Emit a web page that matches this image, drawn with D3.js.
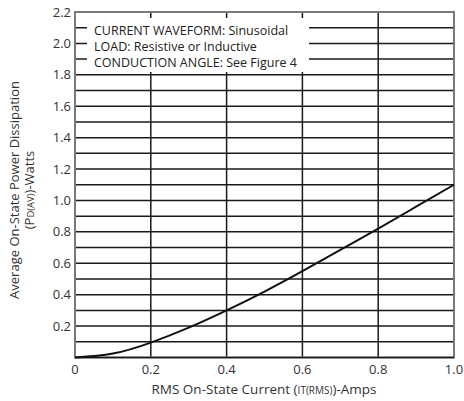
<!DOCTYPE html>
<html>
<head>
<meta charset="utf-8">
<script src="https://cdn.jsdelivr.net/npm/d3@7"></script>
<style>
  body { margin: 0; background: #fff; }
  svg { display: block; font-family: "Open Sans", sans-serif; }
</style>
</head>
<body>
<svg id="chart" width="464" height="401"></svg>
<script>
'use strict';
// curve: RMS current (A) -> average power (W)
const currentA = [0, 0.1, 0.2, 0.3, 0.4, 0.5, 0.6, 0.7, 0.8, 0.9, 1.0];
const powerW   = [0, 0.025, 0.095, 0.19, 0.3, 0.42, 0.55, 0.685, 0.82, 0.96, 1.1];
const xTicks = [0, 0.2, 0.4, 0.6, 0.8, 1.0];
const yTicks = [0.2, 0.4, 0.6, 0.8, 1.0, 1.2, 1.4, 1.6, 1.8, 2.0, 2.2];
const yGrid = d3.range(1, 22).map(i => i / 10);
const notes = ['CURRENT WAVEFORM: Sinusoidal', 'LOAD: Resistive or Inductive', 'CONDUCTION ANGLE: See Figure 4'];

const W = 464, H = 401;
const m = { l: 75, r: 10, t: 12, b: 43.5 };
const svg = d3.select('#chart');

const x = d3.scaleLinear().domain([0, 1]).range([m.l, W - m.r]);
const y = d3.scaleLinear().domain([0, 2.2]).range([H - m.b, m.t]);

// grid
svg.append('g').selectAll('line').data(yGrid).join('line')
  .attr('x1', x(0)).attr('x2', x(1))
  .attr('y1', d => y(d)).attr('y2', d => y(d))
  .attr('stroke', '#1a1a1a').attr('stroke-width', 1.5);
svg.append('g').selectAll('line').data(xTicks.slice(1, -1)).join('line')
  .attr('x1', d => x(d)).attr('x2', d => x(d))
  .attr('y1', y(0)).attr('y2', y(2.2))
  .attr('stroke', '#1a1a1a').attr('stroke-width', 1.5);

// note box covers the grid
svg.append('rect').attr('x', 87).attr('y', 18).attr('width', 222).attr('height', 54).attr('fill', '#fff');
svg.append('g').selectAll('text').data(notes).join('text')
  .attr('x', 94).attr('y', (d, i) => 35 + i * 16)
  .attr('font-size', 12.5).attr('fill', '#222')
  .text(d => d);

// frame
svg.append('rect').attr('x', x(0)).attr('y', y(2.2))
  .attr('width', x(1) - x(0)).attr('height', y(0) - y(2.2))
  .attr('fill', 'none').attr('stroke', '#7a7a7a').attr('stroke-width', 2);
svg.append('line').attr('x1', x(0)).attr('x2', x(1)).attr('y1', y(0)).attr('y2', y(0))
  .attr('stroke', '#1a1a1a').attr('stroke-width', 1.5);

// curve
const pts = currentA.map((c, i) => [c, powerW[i]]);
svg.append('path').datum(pts)
  .attr('d', d3.line().x(d => x(d[0])).y(d => y(d[1])).curve(d3.curveNatural))
  .attr('fill', 'none').attr('stroke', '#111').attr('stroke-width', 2);

// tick labels
svg.append('g').selectAll('text').data(yTicks).join('text')
  .attr('x', 71).attr('y', d => y(d) + 4.5).attr('text-anchor', 'end')
  .attr('font-size', 13).attr('fill', '#333')
  .text(d => d.toFixed(1));
svg.append('g').selectAll('text').data(xTicks).join('text')
  .attr('x', d => x(d)).attr('y', 374).attr('text-anchor', 'middle')
  .attr('font-size', 13).attr('fill', '#333')
  .text(d => d === 0 ? '0' : d.toFixed(1));

// axis titles
const xt = svg.append('text').attr('x', 264).attr('y', 394).attr('text-anchor', 'middle')
  .attr('font-size', 13.5).attr('fill', '#333');
xt.append('tspan').text('RMS On-State Current (');
xt.append('tspan').attr('font-size', 10).text('IT(RMS)');
xt.append('tspan').text(')-Amps');

const yt = svg.append('g').attr('transform', 'translate(19,190) rotate(-90)');
yt.append('text').attr('text-anchor', 'middle').attr('font-size', 13).attr('fill', '#333')
  .text('Average On-State Power Dissipation');
const yt2 = yt.append('text').attr('y', 15).attr('text-anchor', 'middle').attr('font-size', 13).attr('fill', '#333');
yt2.append('tspan').text('(P');
yt2.append('tspan').attr('font-size', 9.5).text('D(AV)');
yt2.append('tspan').text(')-Watts');
</script>
</body>
</html>
